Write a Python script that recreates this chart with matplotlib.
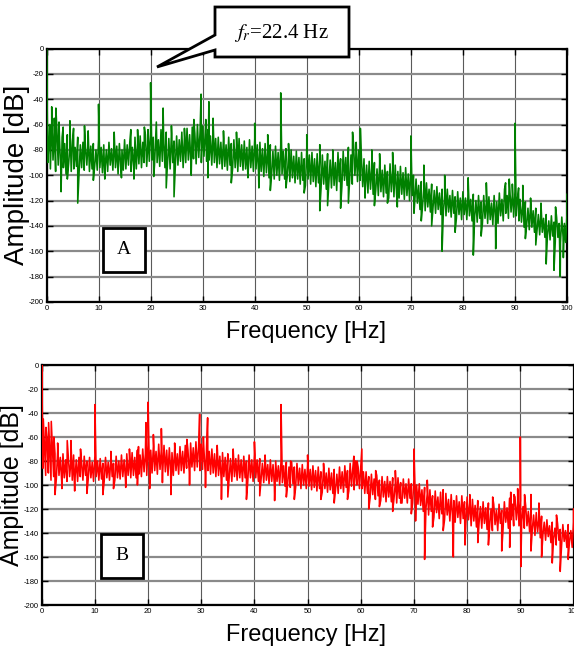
import matplotlib
matplotlib.use('Agg')
import numpy as np
import matplotlib.pyplot as plt
from matplotlib import font_manager as fm
from matplotlib.patches import Polygon, Rectangle

# ---------------- data ----------------
# Noise band of each spectrum: upper values at 0, 0.5, 1.0 ... 100 Hz,
# lower values at 0.25, 0.75 ... 99.75 Hz (dB)
A_hi = [-62, -70, -58, -66, -64, -72, -70, -75, -68, -77, -73, -78, -70, -76, -74, -79, -72, -77, -75, -80,
        -72, -78, -76, -80, -74, -79, -73, -77, -75, -80, -72, -76, -74, -78, -70, -75, -69, -74, -68, -72,
        -65, -70, -67, -72, -64, -69, -66, -71, -67, -73, -69, -72, -66, -70, -63, -68, -62, -67, -60, -66,
        -61, -66, -64, -69, -66, -71, -70, -74, -71, -76, -70, -75, -72, -77, -71, -76, -73, -78, -72, -77,
        -71, -76, -74, -79, -75, -80, -76, -81, -77, -82, -76, -81, -79, -84, -80, -85, -81, -86, -82, -87,
        -79, -84, -82, -87, -83, -88, -84, -89, -83, -88, -85, -90, -82, -87, -81, -86, -78, -84, -76, -82,
        -80, -86, -87, -92, -89, -94, -90, -95, -91, -96, -92, -97, -91, -96, -92, -97, -93, -98, -94, -99,
        -95, -100, -103, -108, -105, -110, -106, -111, -107, -112, -109, -114, -111, -116, -111, -116, -112, -117, -113, -118,
        -113, -118, -114, -119, -115, -120, -116, -121, -116, -121, -117, -122, -116, -121, -114, -119, -111, -116, -110, -115,
        -113, -118, -119, -124, -121, -126, -123, -128, -126, -131, -129, -134, -131, -136, -132, -137, -133, -138, -133, -138,
        -130]
A_lo = [-90, -95, -88, -97, -92, -96, -94, -99, -91, -97, -95, -93, -98, -94, -96, -92, -97, -95, -93, -96,
        -94, -98, -95, -97, -92, -96, -94, -99, -93, -96, -95, -92, -97, -93, -95, -91, -94, -90, -93, -89,
        -88, -92, -90, -93, -89, -94, -91, -95, -90, -93, -92, -89, -94, -90, -88, -92, -87, -91, -86, -90,
        -85, -89, -88, -92, -90, -94, -91, -95, -93, -96, -92, -95, -94, -97, -93, -96, -95, -98, -94, -97,
        -95, -99, -97, -101, -98, -102, -99, -103, -100, -104, -99, -103, -101, -105, -102, -106, -103, -107, -104, -108,
        -103, -107, -105, -109, -106, -110, -107, -111, -106, -110, -108, -112, -105, -109, -104, -108, -103, -107, -100, -105,
        -104, -109, -110, -114, -111, -115, -112, -116, -113, -117, -114, -118, -113, -117, -114, -118, -115, -119, -116, -120,
        -116, -121, -122, -127, -124, -128, -125, -129, -126, -130, -127, -131, -128, -132, -129, -133, -130, -134, -131, -135,
        -131, -135, -132, -136, -133, -137, -134, -138, -134, -138, -135, -139, -134, -138, -132, -136, -130, -134, -129, -133,
        -132, -136, -137, -141, -139, -143, -141, -145, -143, -147, -145, -149, -147, -151, -148, -152, -149, -153, -149, -153]
A_peak_f = [0.0, 0.6, 1.0, 1.5, 1.8, 2.4, 3.2, 4.5, 5.2, 7.3, 8.0, 10.0, 13.0,
            16.2, 17.5, 18.8, 19.5, 20.0, 21.1, 22.4, 24.0, 26.5, 28.3, 29.7,
            30.6, 31.2, 32.0, 34.0, 36.5, 40.0, 42.5, 45.0, 46.5, 50.0, 52.5,
            55.0, 58.8, 59.5, 60.3, 62.5, 64.0, 66.5, 70.0, 72.5, 76.5, 81.0,
            84.5, 88.2, 88.9, 89.5, 90.0, 90.7, 91.5, 93.0, 95.0, 97.8, 100.0]
A_peak_v = [0, -60, -46, -55, -47, -58, -62, -57, -63, -61, -65, -44, -66,
            -64, -64, -62, -64, -27, -58, -47, -61, -63, -56, -36,
            -56, -42, -55, -65, -66, -59, -68, -35, -75, -68, -76,
            -80, -66, -74, -63, -80, -83, -82, -69, -92, -100, -102,
            -106, -106, -103, -107, -59, -110, -108, -118, -122, -125, -115]
A_dip_f = [2.8, 4.0, 6.0, 9.0, 11.2, 14.4, 16.8, 20.6, 23.0, 24.5, 27.8, 31.0,
           35.5, 38.7, 40.8, 43.0, 46.0, 49.5, 52.5, 54.0, 56.5, 58.0, 61.2,
           63.0, 65.5, 67.4, 70.6, 72.0, 74.0, 76.0, 78.5, 82.0, 83.5, 86.3,
           92.0, 94.0, 96.0, 97.5, 98.7, 99.3]
A_dip_v = [-113, -103, -122, -104, -103, -102, -103, -101, -110, -117, -100, -102,
           -106, -102, -110, -112, -110, -114, -128, -124, -126, -122, -118,
           -124, -122, -125, -130, -136, -140, -160, -145, -163, -148, -158,
           -150, -155, -170, -175, -180, -165]

B_hi = [-58, -66, -62, -70, -68, -74, -72, -77, -74, -79, -76, -80, -75, -79, -77, -81, -76, -80, -77, -81,
        -76, -80, -78, -82, -77, -81, -78, -82, -76, -80, -75, -79, -74, -78, -73, -77, -71, -75, -70, -74,
        -67, -71, -68, -72, -66, -70, -67, -71, -69, -73, -70, -74, -68, -72, -67, -71, -65, -69, -64, -68,
        -66, -70, -68, -72, -70, -74, -72, -76, -73, -77, -74, -78, -74, -78, -75, -79, -76, -80, -75, -79,
        -75, -79, -78, -82, -79, -83, -79, -83, -80, -84, -80, -84, -81, -85, -81, -85, -82, -86, -83, -87,
        -83, -87, -84, -88, -85, -89, -86, -90, -86, -90, -87, -91, -85, -89, -84, -88, -82, -86, -80, -85,
        -84, -89, -89, -93, -91, -95, -92, -96, -93, -97, -93, -97, -94, -98, -94, -98, -95, -99, -95, -99,
        -95, -100, -99, -104, -102, -107, -104, -109, -105, -110, -106, -111, -107, -112, -108, -113, -109, -114, -109, -114,
        -110, -115, -112, -117, -113, -118, -114, -119, -115, -120, -116, -121, -116, -121, -114, -119, -111, -116, -110, -115,
        -113, -118, -117, -122, -120, -125, -123, -128, -126, -131, -129, -134, -131, -136, -132, -137, -133, -138, -133, -138,
        -131]
B_lo = [-86, -92, -90, -96, -93, -95, -92, -96, -94, -97, -93, -96, -95, -97, -93, -96, -92, -95, -94, -97,
        -93, -96, -95, -97, -94, -96, -93, -96, -94, -95, -93, -95, -92, -94, -92, -94, -91, -93, -89, -92,
        -87, -90, -88, -91, -87, -90, -89, -92, -89, -92, -88, -91, -88, -90, -86, -89, -85, -88, -85, -88,
        -87, -90, -88, -91, -90, -93, -92, -95, -93, -96, -94, -97, -93, -96, -94, -97, -94, -97, -94, -97,
        -94, -97, -95, -98, -96, -99, -97, -100, -97, -100, -98, -101, -99, -102, -99, -102, -100, -103, -100, -103,
        -101, -104, -102, -105, -103, -106, -103, -106, -104, -107, -104, -107, -103, -106, -102, -105, -101, -104, -100, -103,
        -103, -107, -107, -111, -108, -112, -109, -113, -110, -114, -110, -114, -111, -115, -111, -115, -111, -115, -111, -115,
        -112, -116, -117, -122, -120, -125, -122, -127, -123, -128, -124, -129, -125, -130, -126, -131, -127, -132, -128, -133,
        -129, -134, -130, -135, -131, -136, -132, -137, -133, -138, -133, -138, -132, -137, -131, -136, -129, -134, -129, -134,
        -131, -136, -134, -139, -137, -142, -139, -144, -141, -146, -143, -148, -145, -150, -146, -151, -147, -152, -147, -152]
B_peak_f = [0.0, 0.3, 0.8, 1.3, 1.8, 2.3, 3.0, 4.8, 5.5, 7.3, 10.0, 13.0, 16.5,
            18.2, 19.6, 20.0, 21.0, 22.5, 25.0, 27.3, 29.7, 30.4, 31.2, 33.0,
            36.0, 40.0, 42.0, 45.0, 46.8, 50.0, 53.0, 58.7, 59.3, 60.2, 62.8,
            66.5, 70.0, 72.5, 75.5, 80.5, 84.8, 88.2, 88.8, 89.5, 90.0, 90.8,
            92.0, 93.5, 96.8, 100.0]
B_peak_v = [0, -45, -52, -48, -47, -60, -65, -63, -63, -70, -33, -72, -70,
            -68, -48, -31, -58, -53, -65, -62, -41, -60, -44, -67,
            -70, -64, -75, -33, -80, -75, -82, -76, -80, -70, -88,
            -88, -70, -96, -104, -108, -110, -106, -108, -103, -60, -108,
            -108, -115, -125, -120]
B_dip_f = [2.5, 3.8, 6.2, 8.5, 11.5, 13.5, 15.8, 18.0, 20.3, 22.7, 24.3, 27.8,
           30.8, 33.8, 35.0, 38.5, 41.0, 43.8, 46.0, 47.5, 52.5, 55.0, 57.5,
           61.5, 63.5, 66.0, 67.5, 69.5, 70.3, 72.0, 73.5, 75.5, 77.4, 79.6,
           82.0, 84.0, 86.5, 88.0, 90.1, 92.0, 94.0, 96.0, 97.5, 99.0]
B_dip_v = [-108, -103, -105, -107, -108, -103, -102, -100, -103, -98, -108, -100,
           -102, -112, -110, -112, -109, -113, -110, -112, -112, -115, -112,
           -120, -118, -122, -115, -124, -130, -162, -135, -138, -160, -150,
           -148, -150, -155, -152, -168, -155, -160, -165, -172, -162]

xticks = list(range(0, 101, 10))
yticks = list(range(-200, 1, 20))
xlabel = "Frequency [Hz]"
ylabel = "Amplitude [dB]"
annot_text = r"$f_r$=22.4 Hz"

# ---------------- helpers ----------------
names = {f.name for f in fm.fontManager.ttflist}
NARROW = 'Liberation Sans Narrow' if 'Liberation Sans Narrow' in names else 'Liberation Sans'
plt.rcParams['mathtext.fontset'] = 'stix'

W, H = 574, 650


def fx(x):
    return x / W


def fy(y):
    return 1 - y / H


def build(hi, lo, pf, pv, df, dv):
    f_hi = [0.5 * i for i in range(len(hi))]
    f_lo = [0.5 * i + 0.25 for i in range(len(lo))]
    f = f_hi + f_lo + list(pf) + list(df)
    a = list(hi) + list(lo) + list(pv) + list(dv)
    order = np.argsort(np.array(f), kind='stable')
    return np.array(f)[order], np.array(a, dtype=float)[order]


fig = plt.figure(figsize=(W / 100, H / 100), dpi=100)
fig.patch.set_facecolor('white')


def make_axes(rect, fa, va, color):
    ax = fig.add_axes(rect)
    ax.plot(fa, va, color=color, lw=1.15, zorder=3)
    ax.set_xlim(0, 100)
    ax.set_ylim(-200, 0)
    ax.set_xticks(xticks)
    ax.set_yticks(yticks)
    ax.set_xticklabels([str(t) for t in xticks], fontsize=5.5, family=NARROW)
    ax.set_yticklabels([str(t) for t in yticks], fontsize=5.5, family=NARROW)
    ax.tick_params(direction='in', length=4, width=1, top=True, right=True, pad=2)
    ax.grid(axis='y', color='#8a8a8a', lw=1.6, zorder=1)
    ax.grid(axis='x', color='#5a5a5a', lw=0.8, zorder=1)
    ax.set_axisbelow(True)
    for s in ax.spines.values():
        s.set_linewidth(1.6)
        s.set_color('black')
    return ax


fA, vA = build(A_hi, A_lo, A_peak_f, A_peak_v, A_dip_f, A_dip_v)
fB, vB = build(B_hi, B_lo, B_peak_f, B_peak_v, B_dip_f, B_dip_v)

axA = make_axes([fx(46.5), fy(302), fx(567) - fx(46.5), fy(48.5) - fy(302)], fA, vA, '#008000')
axB = make_axes([fx(41.7), fy(605), fx(573.5) - fx(41.7), fy(365) - fy(605)], fB, vB, '#ff0000')

# axis labels
for yb, yc, xc, ysz in [(338, 175, 17, 20), (641, 485, 12, 18)]:
    fig.text(fx(306), fy(yb), xlabel, ha='center', va='baseline', fontsize=17, family=NARROW)
    fig.text(fx(xc), fy(yc), ylabel, ha='center', va='center', rotation=90,
             fontsize=ysz, family='Liberation Sans')

# panel letter boxes
for (x0, y0, x1, y1, letter) in [(103, 228, 145, 272, 'A'), (101, 534, 143, 578, 'B')]:
    fig.patches.append(Rectangle((fx(x0), fy(y1)), fx(x1) - fx(x0), fy(y0) - fy(y1),
                                 transform=fig.transFigure, facecolor='white',
                                 edgecolor='black', lw=2, zorder=5))
    fig.text(fx((x0 + x1) / 2), fy((y0 + y1) / 2), letter, ha='center', va='center',
             fontsize=14, family='Liberation Serif', zorder=6)

# callout box with pointer
call = [(215, 7), (349, 7), (349, 57), (215, 57), (215, 50), (157, 67), (215, 35)]
fig.patches.append(Polygon([(fx(x), fy(y)) for x, y in call], closed=True,
                           transform=fig.transFigure, facecolor='white',
                           edgecolor='black', lw=2, zorder=5))
fig.text(fx(281), fy(33), annot_text, ha='center', va='center', fontsize=15,
         family='Liberation Serif', zorder=6)

fig.savefig('out.png', dpi=100)
